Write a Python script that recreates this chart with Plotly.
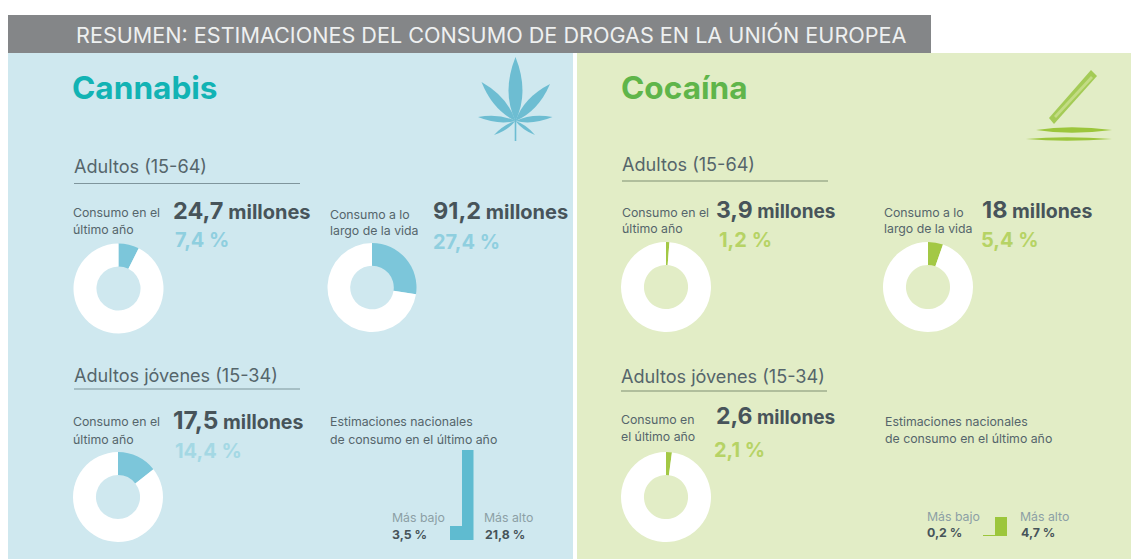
import plotly.graph_objects as go

# Drug-use estimates shown on the two panels
title = "RESUMEN: ESTIMACIONES DEL CONSUMO DE DROGAS EN LA UNIÓN EUROPEA"
drugs = ["Cannabis", "Cocaína"]
group_adults = "Adultos (15-64)"
group_young = "Adultos jóvenes (15-34)"

cannabis_millions = ["24,7", "91,2", "17,5"]
cannabis_shares = [7.4, 27.4, 14.4]
cannabis_range = [3.5, 21.8]

cocaine_millions = ["3,9", "18", "2,6"]
cocaine_shares = [1.2, 5.4, 2.1]
cocaine_range = [0.2, 4.7]

range_labels = ["Más bajo", "Más alto"]
range_caption = ["Estimaciones nacionales", "de consumo en el último año"]

W, H = 1131, 559
FONT = "Inter, 'Liberation Sans', sans-serif"
DARK = "#47545a"
MID = "#55656b"
SOFT = "#8c9fa5"
TEAL = "#7cc6da"
TEAL_BAR = "#5fbbd0"
TEAL_TEXT = "#8fcfdf"
LIME = "#a3c845"
LIME_BAR = "#9cc63c"
LIME_TEXT = "#b6d365"
SMALL = 12.3
GROUP = 18.1
PERCENT = 20


def px(x):
    return x / W


def py(y):
    return 1 - y / H


def pct(v):
    return f"{v:.1f}".replace(".", ",") + " %"


fig = go.Figure()
shapes = []
notes = []


def rect(x0, y0, x1, y1, color):
    shapes.append(dict(type="rect", xref="paper", yref="paper", layer="below",
                       x0=px(x0), x1=px(x1), y0=py(y0), y1=py(y1),
                       fillcolor=color, line_width=0))


def rule(x0, x1, y, color):
    shapes.append(dict(type="line", xref="paper", yref="paper", layer="below",
                       x0=px(x0), x1=px(x1), y0=py(y), y1=py(y),
                       line=dict(color=color, width=1.2)))


def glyph(d, color):
    shapes.append(dict(type="path", xref="paper", yref="paper", layer="below",
                       path=d, fillcolor=color, line_width=0))


def pt(x, y):
    return f"{px(x):.5f},{py(y):.5f}"


def leaf(bx, by, tx, ty, w):
    # Pointed blade from base to tip, bulging by w on each side
    mx, my = bx + (tx - bx) * 0.45, by + (ty - by) * 0.45
    dx, dy = tx - bx, ty - by
    n = (dx * dx + dy * dy) ** 0.5
    ox, oy = -dy / n * w, dx / n * w
    return (f"M {pt(bx, by)} Q {pt(mx + ox, my + oy)} {pt(tx, ty)} "
            f"Q {pt(mx - ox, my - oy)} {pt(bx, by)} Z")


def polygon(points):
    return "M " + " L ".join(pt(x, y) for x, y in points) + " Z"


def label(x, y, text, size, color, bold=False):
    notes.append(dict(x=px(x - 1.5), y=py(y), xref="paper", yref="paper",
                      xanchor="left", yanchor="middle", showarrow=False,
                      borderpad=0, align="left",
                      text=f"<b>{text}</b>" if bold else text,
                      font=dict(family=FONT, size=size, color=color)))


def headline(x, y, number, num_size=23, word_size=19):
    text = (f'<b><span style="font-size:{num_size}px">{number}</span>'
            f'<span style="font-size:{word_size}px"> millones</span></b>')
    notes.append(dict(x=px(x - 1.5), y=py(y), xref="paper", yref="paper",
                      xanchor="left", yanchor="middle", showarrow=False,
                      borderpad=0, text=text,
                      font=dict(family=FONT, size=word_size, color=DARK)))


def donut(cx, cy, r, share, color):
    fig.add_trace(go.Pie(
        values=[share, 100 - share], sort=False, direction="clockwise", rotation=0,
        hole=0.49, textinfo="none", hoverinfo="skip", showlegend=False,
        marker=dict(colors=[color, "#ffffff"], line=dict(width=0)),
        domain=dict(x=[px(cx - r), px(cx + r)], y=[py(cy + r), py(cy - r)]),
    ))


# Page blocks
rect(8, 15, 931, 53, "#848688")
rect(8, 53, 573, 559, "#cfe8ef")
rect(577, 53, 1131, 559, "#e2edc6")
label(76, 34.5, title, 21.6, "#eef0f0")

# Cannabis leaf
leaf_color = "#6dbdd2"
for tip, width in [((515.5, 57), 14), ((481.5, 82), 10), ((550, 84), 10),
                   ((478, 117), 6), ((552.5, 117), 6), ((494, 135), 3.5), ((535, 135), 3.5)]:
    glyph(leaf(515.5, 121, tip[0], tip[1], width), leaf_color)
glyph(polygon([(514.7, 115), (516.3, 115), (516.3, 141), (514.7, 141)]), leaf_color)

# Straw over two lines of powder
glyph(polygon([(1091, 70), (1097, 76), (1054, 124), (1049, 118)]), "#a4cb56")
glyph(polygon([(1091, 76), (1093, 78), (1056, 118), (1054, 116)]), "#c3dc84")
glyph(leaf(1036, 130, 1112, 130, 5.5), LIME_BAR)
glyph(leaf(1026, 139, 1112, 139, 3.5), LIME_BAR)

# Cannabis panel
label(72, 87, drugs[0], 31.6, "#12b3b4", bold=True)
label(74, 166, group_adults, GROUP, MID)
rule(74, 300, 183.5, "#7f959c")
label(73.5, 213, "Consumo en el", SMALL, MID)
label(73.5, 229, "último año", SMALL, MID)
headline(173, 211, cannabis_millions[0], 23.5, 20)
label(175, 240, pct(cannabis_shares[0]), PERCENT, TEAL_TEXT, bold=True)
donut(118.5, 288.5, 45, cannabis_shares[0], TEAL)

label(330, 214, "Consumo a lo", SMALL, MID)
label(330, 230, "largo de la vida", SMALL, MID)
headline(433, 211, cannabis_millions[1], 23.5, 20)
label(433, 242, pct(cannabis_shares[1]), PERCENT, TEAL_TEXT, bold=True)
donut(372, 287.5, 44.5, cannabis_shares[1], TEAL)

label(74, 375, group_young, GROUP, MID)
rule(74, 300, 389, "#7f959c")
label(73.5, 422, "Consumo en el", SMALL, MID)
label(73.5, 439, "último año", SMALL, MID)
headline(173, 420, cannabis_millions[2], 24.5, 19.5)
label(175, 451, pct(cannabis_shares[2]), PERCENT, "#a4d8e4", bold=True)
donut(118, 497, 45, cannabis_shares[2], TEAL)

label(330, 422, range_caption[0], SMALL, MID)
label(330, 439, range_caption[1], SMALL, MID)
label(392, 517, range_labels[0], SMALL, SOFT)
label(392, 534, pct(cannabis_range[0]), SMALL, DARK, bold=True)
label(484.5, 517, range_labels[1], SMALL, SOFT)
label(485, 534, pct(cannabis_range[1]), SMALL, DARK, bold=True)

# Cocaine panel
label(621, 87, drugs[1], 31.6, "#5fb54a", bold=True)
label(622.5, 164, group_adults, GROUP, MID)
rule(622, 828, 181, "#7f8f72")
label(622, 212, "Consumo en el", SMALL, MID)
label(622, 228, "último año", SMALL, MID)
headline(716, 210, cocaine_millions[0])
label(719, 240, pct(cocaine_shares[0]), PERCENT, LIME_TEXT, bold=True)
donut(666, 287, 45, cocaine_shares[0], LIME)

label(884, 212, "Consumo a lo", SMALL, MID)
label(884, 228, "largo de la vida", SMALL, MID)
headline(982, 209, cocaine_millions[1], 23.5, 19.5)
label(981, 240, pct(cocaine_shares[1]), PERCENT, LIME_TEXT, bold=True)
donut(928, 287, 45, cocaine_shares[1], LIME)

label(621.5, 376, group_young, GROUP, MID)
rule(621, 827, 391, "#7f8f72")
label(621, 419, "Consumo en", SMALL, MID)
label(621, 436, "el último año", SMALL, MID)
headline(716, 416, cocaine_millions[2])
label(714, 450, pct(cocaine_shares[2]), PERCENT, LIME_TEXT, bold=True)
donut(666, 497, 45, cocaine_shares[2], LIME)

label(885, 422, range_caption[0], SMALL, MID)
label(885, 438, range_caption[1], SMALL, MID)
label(927, 516, range_labels[0], SMALL, SOFT)
label(927, 532, pct(cocaine_range[0]), SMALL, DARK, bold=True)
label(1020, 516, range_labels[1], SMALL, SOFT)
label(1021, 532, pct(cocaine_range[1]), SMALL, DARK, bold=True)

# Lowest/highest national estimates, both panels on one vertical scale
fig.add_trace(go.Bar(x=[0, 1], y=cannabis_range, width=1, xaxis="x", yaxis="y",
                     marker=dict(color=TEAL_BAR, line_width=0),
                     hoverinfo="skip", showlegend=False))
fig.add_trace(go.Bar(x=[0, 1], y=cocaine_range, width=1, xaxis="x2", yaxis="y2",
                     marker=dict(color=LIME_BAR, line_width=0),
                     hoverinfo="skip", showlegend=False))

hidden = dict(visible=False, fixedrange=True)
fig.update_layout(
    width=W, height=H, autosize=False,
    margin=dict(l=0, r=0, t=0, b=0),
    paper_bgcolor="#ffffff", plot_bgcolor="rgba(0,0,0,0)",
    shapes=shapes, annotations=notes, bargap=0,
    xaxis=dict(domain=[px(450), px(473.5)], range=[-0.5, 1.5], **hidden),
    yaxis=dict(domain=[py(540), py(450)], range=[0, 21.8], **hidden),
    xaxis2=dict(domain=[px(983), px(1007)], range=[-0.5, 1.5], **hidden),
    yaxis2=dict(domain=[py(536), py(446)], range=[0, 21.8], **hidden),
)

fig.write_html("out.html", config=dict(displayModeBar=False))
